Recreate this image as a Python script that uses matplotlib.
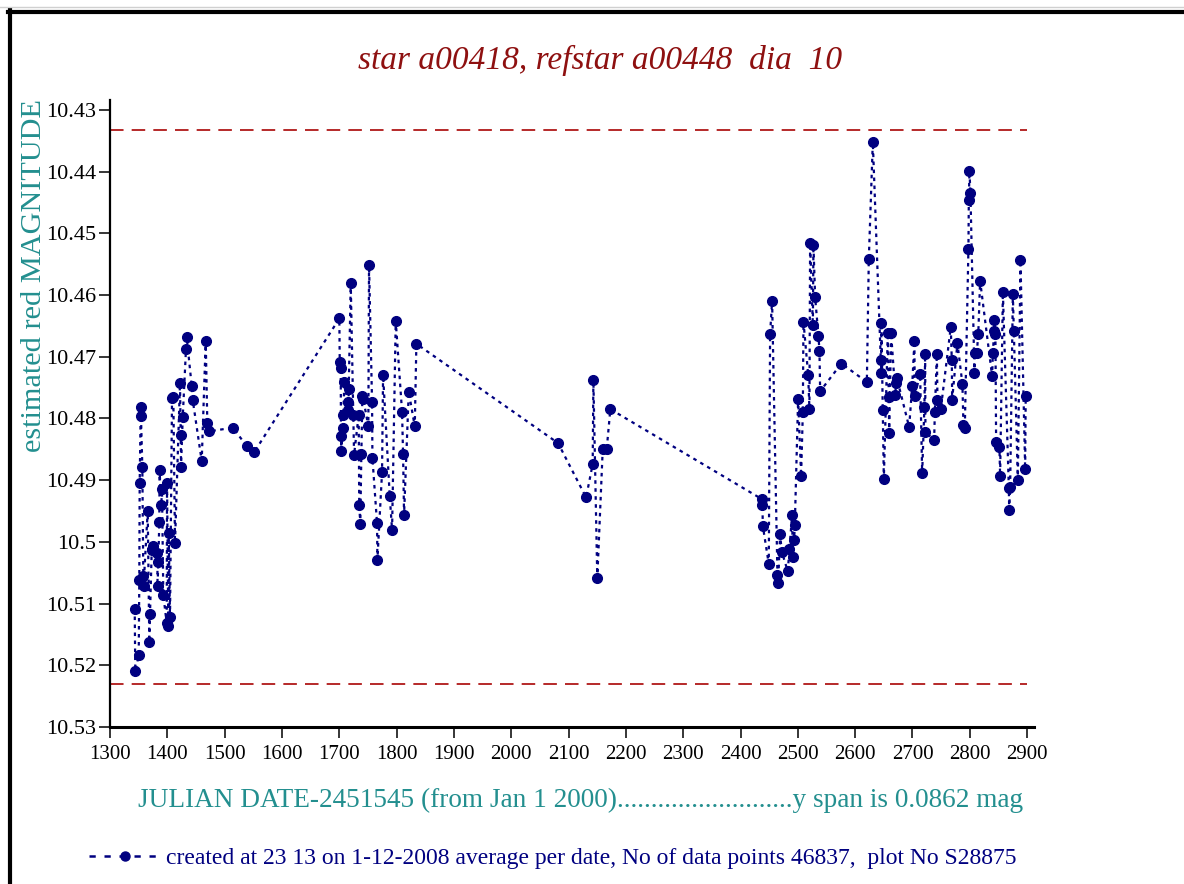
import numpy as np
import matplotlib.pyplot as plt
from matplotlib.lines import Line2D

plt.rcParams['font.family'] = ['Liberation Serif', 'DejaVu Serif']

# julian date - 2451545, averaged per date
dates = [
    1343.1, 1344.1, 1350.1, 1351.1, 1351.8, 1353.6, 1354.0, 1356.4, 1358.1, 1358.6,
    1365.8, 1368.6, 1369.8, 1372.8, 1375.6, 1382.5, 1383.0, 1384.3, 1386.0, 1386.5,
    1389.5, 1390.7, 1393.0, 1398.9, 1399.5, 1401.7, 1402.4, 1404.7, 1408.2, 1410.5,
    1413.4, 1422.1, 1423.4, 1423.9, 1426.9, 1432.6, 1433.8, 1442.6, 1444.3, 1460.0,
    1467.0, 1469.8, 1472.2, 1514.6, 1538.5, 1551.3,
    1700.1, 1700.8, 1702.5, 1703.0, 1703.6, 1706.0, 1707.1, 1708.8, 1714.7, 1715.8,
    1716.5, 1720.0, 1724.5, 1725.8, 1733.9, 1734.8, 1736.7, 1738.5, 1740.3, 1742.0,
    1750.7, 1751.9, 1757.2, 1757.8, 1765.9, 1766.5, 1774.6, 1776.4, 1788.0, 1792.1,
    1798.5, 1809.5, 1811.3, 1813.0, 1821.2, 1831.7, 1834.5,
    2081.7, 2130.6, 2142.1, 2143.3, 2150.1, 2159.6, 2166.5, 2172.9,
    2437.7, 2438.2, 2438.9, 2449.3, 2451.6, 2455.1, 2464.4, 2465.6, 2469.1, 2472.0,
    2482.5, 2485.3, 2490.0, 2491.2, 2493.5, 2494.7, 2500.5, 2505.7, 2508.7, 2509.8,
    2518.0, 2520.2, 2521.4, 2526.2, 2527.2, 2530.2, 2535.9, 2537.7, 2538.9, 2576.0,
    2620.4, 2623.8, 2630.8, 2644.7, 2645.3, 2645.8, 2648.2, 2650.0, 2657.0, 2658.7,
    2659.3, 2662.7, 2670.3, 2670.9, 2672.6, 2694.2, 2699.4, 2703.4, 2703.9, 2713.3,
    2716.9, 2720.8, 2722.1, 2722.6, 2737.8, 2739.0, 2742.5, 2743.6, 2749.5, 2766.8,
    2768.6, 2769.2, 2778.4, 2787.1, 2788.9, 2791.3, 2797.6, 2798.3, 2799.4, 2801.1,
    2808.1, 2808.3, 2812.2, 2814.8, 2818.0, 2839.0, 2840.2, 2842.5, 2843.0, 2844.7,
    2845.9, 2851.7, 2852.9, 2857.7, 2868.1, 2868.7, 2870.4, 2875.1, 2876.8, 2883.8,
    2888.4, 2896.6, 2897.5,
]
mags = [
    10.5108, 10.5209, 10.5184, 10.5062, 10.4904, 10.4782, 10.4796, 10.4878, 10.5056, 10.5071,
    10.4950, 10.5162, 10.5117, 10.5013, 10.5007, 10.5018, 10.5071, 10.5032, 10.4968, 10.4884,
    10.4940, 10.4915, 10.5086, 10.5132, 10.4904, 10.5136, 10.4985, 10.5122, 10.4767, 10.4765,
    10.5002, 10.4743, 10.4827, 10.4878, 10.4798, 10.4687, 10.4668, 10.4748, 10.4770, 10.4869,
    10.4674, 10.4808, 10.4821, 10.4815, 10.4845, 10.4855,
    10.4638, 10.4708, 10.4719, 10.4829, 10.4853, 10.4816, 10.4794, 10.4741, 10.4774, 10.4786,
    10.4752, 10.4581, 10.4794, 10.4859, 10.4794, 10.4941, 10.4971, 10.4858, 10.4763, 10.4769,
    10.4813, 10.4551, 10.4774, 10.4864, 10.4970, 10.5029, 10.4887, 10.4729, 10.4925, 10.4981,
    10.4642, 10.4789, 10.4858, 10.4956, 10.4757, 10.4813, 10.4679,
    10.4840, 10.4928, 10.4874, 10.4738, 10.5059, 10.4850, 10.4850, 10.4785,
    10.4931, 10.4940, 10.4974, 10.5036, 10.4663, 10.4610, 10.5053, 10.5066, 10.4988, 10.5016,
    10.5048, 10.5011, 10.4957, 10.5025, 10.4997, 10.4973, 10.4768, 10.4893, 10.4790, 10.4643,
    10.4729, 10.4784, 10.4516, 10.4649, 10.4519, 10.4604, 10.4666, 10.4690, 10.4756, 10.4711,
    10.4741, 10.4542, 10.4352, 10.4705, 10.4727, 10.4645, 10.4787, 10.4898, 10.4661, 10.4766,
    10.4824, 10.4662, 10.4762, 10.4743, 10.4734, 10.4814, 10.4748, 10.4674, 10.4764, 10.4728,
    10.4889, 10.4781, 10.4696, 10.4822, 10.4835, 10.4790, 10.4696, 10.4770, 10.4784, 10.4652,
    10.4706, 10.4770, 10.4678, 10.4744, 10.4811, 10.4815, 10.4525, 10.4446, 10.4399, 10.4435,
    10.4727, 10.4694, 10.4694, 10.4663, 10.4577, 10.4732, 10.4694, 10.4659, 10.4640, 10.4663,
    10.4838, 10.4847, 10.4893, 10.4595, 10.4913, 10.4948, 10.4911, 10.4599, 10.4659, 10.4900,
    10.4544, 10.4882, 10.4764,
]
limit_lines = [10.4332, 10.5230]

xticks = list(range(1300, 3000, 100))
yticks = [10.43, 10.44, 10.45, 10.46, 10.47, 10.48, 10.49, 10.50, 10.51, 10.52, 10.53]
ytick_labels = ['10.43', '10.44', '10.45', '10.46', '10.47', '10.48', '10.49',
                '10.5', '10.51', '10.52', '10.53']

title = 'star a00418, refstar a00448  dia  10'
xlabel = 'JULIAN DATE-2451545 (from Jan 1 2000)..........................y span is 0.0862 mag'
ylabel = 'estimated red MAGNITUDE'
note = 'created at 23 13 on 1-12-2008 average per date, No of data points 46837,  plot No S28875'

W, H = 1184, 884
fig = plt.figure(figsize=(W / 100, H / 100), dpi=100)
ax = fig.add_axes([110 / W, 1 - 727 / H, (1034 - 110) / W, (727 - 100) / H])

navy = '#000080'
teal = '#238f8f'
darkred = '#8e1010'

order = np.argsort(dates, kind='stable')
xs = np.array(dates)[order]
ys = np.array(mags)[order]
ax.plot(xs, ys, color=navy, lw=1.6, ls=(0, (1.6, 2.0)),
        marker='o', ms=7, mfc=navy, mec=navy)

for yl in limit_lines:
    ax.plot([1300, 2900], [yl, yl], color='#b01818', lw=1.3, ls=(0, (7.5, 4.5)))

ax.set_xlim(1300, 2912)
ax.set_ylim(10.53, 10.4284)
ax.set_xticks(xticks)
ax.set_xticklabels([str(t) for t in xticks])
ax.set_yticks(yticks)
ax.set_yticklabels(ytick_labels)
ax.tick_params(axis='both', direction='out', length=8, width=1.1, colors='black')
ax.tick_params(axis='x', pad=5, labelsize=15)
ax.tick_params(axis='y', pad=2, labelsize=16)

for s in ['top', 'right']:
    ax.spines[s].set_visible(False)
ax.spines['left'].set_linewidth(1.6)
ax.spines['bottom'].set_linewidth(2.2)

fig.text(600 / W, 1 - 60 / H, title, ha='center', va='center',
         fontsize=24, style='italic', color=darkred)
fig.text(581 / W, 1 - 800 / H, xlabel, ha='center', va='center',
         fontsize=19.6, color=teal)
fig.text(34 / W, 1 - 99 / H, ylabel, ha='center', va='top', rotation=90,
         fontsize=21.8, color=teal)

# legend entry drawn with sparser dashes, like the original
proxy = Line2D([], [], color=navy, lw=1.8, ls=(0, (2.5, 3.5)),
               marker='o', ms=6.5, mfc=navy, mec=navy)
leg = fig.legend(handles=[proxy], labels=[note], loc='center',
                 bbox_to_anchor=(553 / W, 1 - 858 / H), frameon=False,
                 fontsize=17, handlelength=3.0, handletextpad=0.25,
                 borderaxespad=0, borderpad=0)
for t in leg.get_texts():
    t.set_color(navy)

# outer frame, top and left edges only
fig.add_artist(Line2D([8 / W, 1], [1 - 11.5 / H, 1 - 11.5 / H],
                      transform=fig.transFigure, color='black', lw=3))
fig.add_artist(Line2D([10 / W, 10 / W], [0, 1 - 10 / H],
                      transform=fig.transFigure, color='black', lw=3))
fig.add_artist(Line2D([0, 1], [1 - 7 / H, 1 - 7 / H],
                      transform=fig.transFigure, color='#d0d0d0', lw=1))

fig.savefig('out.png', dpi=100)
